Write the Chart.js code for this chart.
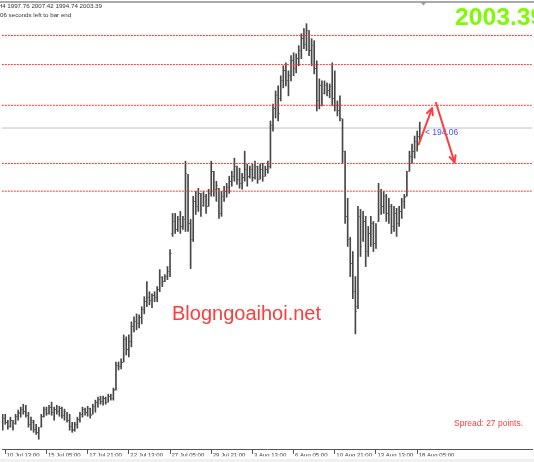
<!DOCTYPE html>
<html><head><meta charset="utf-8">
<script src="https://cdn.jsdelivr.net/npm/chart.js@4/dist/chart.umd.min.js"></script>
<style>html,body{margin:0;padding:0;background:#fff;overflow:hidden}canvas{display:block}</style>
</head><body>
<canvas id="c" width="534" height="462"></canvas>
<script>
// XAUUSD H4 bars, 10 Jul 09:00 .. 18 Aug 09:00
const opens=[1797.8,1804.0,1801.2,1798.4,1802.6,1800.5,1805.3,1807.4,1810.2,1808.8,
1806.0,1799.8,1801.2,1796.4,1794.3,1798.4,1805.3,1810.2,1807.4,1811.6,
1808.1,1810.2,1808.8,1810.9,1806.0,1807.4,1802.6,1798.4,1796.4,1799.8,
1803.3,1806.7,1810.2,1808.1,1810.9,1806.7,1812.2,1815.0,1817.1,1815.7,
1817.8,1815.0,1819.1,1817.8,1824.0,1840.5,1839.2,1842.6,1857.8,1850.9,
1856.4,1866.8,1870.2,1868.8,1873.0,1878.5,1884.0,1886.8,1884.7,1888.1,
1886.8,1892.3,1900.6,1897.8,1901.3,1904.7,1930.9,1939.2,1933.7,1940.6,
1935.8,1940.6,1970.3,1937.8,1926.8,1953.0,1949.6,1958.5,1950.2,1956.5,
1949.6,1958.5,1973.7,1961.3,1962.0,1944.7,1956.5,1959.9,1962.7,1966.8,
1970.3,1977.2,1968.2,1965.4,1969.6,1975.1,1970.3,1975.1,1969.6,1977.2,
1968.2,1975.1,1970.3,1975.1,1977.2,2004.8,2016.5,2025.5,2023.4,2035.8,
2042.7,2035.8,2039.3,2049.6,2044.1,2051.0,2056.5,2064.8,2060.6,2070.3,
2056.5,2060.0,2044.1,2022.0,2032.4,2026.8,2032.4,2028.9,2031.7,2023.4,
2018.6,2015.1,2009.6,1987.5,1942.7,1926.8,1910.2,1890.9,1880.6,1942.7,
1926.8,1939.2,1918.5,1930.9,1937.8,1924.0,1939.2,1959.9,1949.6,1956.5,
1944.7,1949.6,1935.8,1944.7,1937.8,1946.1,1953.0,1956.5,1973.7,1984.1,
1987.5,1994.4,1997.76];
const highs=[1806.7,1806.7,1802.6,1804.7,1802.6,1806.7,1809.5,1811.6,1813.6,1812.9,
1808.1,1804.7,1802.6,1799.8,1797.8,1806.7,1811.6,1811.6,1812.9,1815.0,
1811.6,1812.9,1812.2,1811.6,1810.2,1808.1,1806.7,1801.2,1801.2,1804.7,
1808.1,1811.6,1810.9,1812.2,1810.9,1813.6,1816.4,1818.5,1819.1,1819.1,
1818.5,1820.5,1820.5,1824.7,1842.6,1842.6,1844.7,1861.2,1859.9,1861.2,
1870.2,1873.7,1875.7,1875.0,1880.6,1887.5,1897.8,1890.9,1889.5,1890.9,
1894.4,1906.1,1901.3,1902.6,1908.2,1919.9,1944.7,1944.7,1942.7,1946.1,
1942.7,1980.6,1971.6,1940.6,1956.5,1959.9,1962.0,1958.5,1959.9,1957.8,
1961.3,1980.6,1973.7,1966.8,1962.0,1959.9,1963.4,1965.4,1970.3,1973.7,
1982.7,1977.2,1975.8,1972.3,1987.5,1978.5,1977.2,1978.5,1980.6,1977.2,
1978.5,1979.2,1977.2,1980.6,2008.2,2019.9,2028.9,2032.4,2039.3,2046.2,
2048.2,2042.7,2053.1,2055.1,2054.4,2060.0,2068.2,2071.7,2075.1,2070.3,
2064.8,2063.4,2049.6,2037.2,2035.8,2035.8,2034.4,2033.7,2048.2,2042.7,
2022.0,2025.5,2009.6,1987.5,1955.1,1928.2,1918.5,1901.3,1949.6,1947.5,
1946.1,1942.7,1935.8,1942.7,1939.2,1937.8,1965.4,1961.3,1959.9,1957.8,
1955.1,1950.9,1949.6,1948.2,1949.6,1955.1,1957.8,1973.7,1987.5,1992.3,
1997.9,2001.3,2007.42];
const lows=[1795.7,1799.8,1796.4,1797.8,1795.7,1799.8,1802.6,1804.7,1806.7,1804.7,
1797.8,1795.7,1794.3,1792.9,1789.5,1797.8,1804.7,1806.0,1806.7,1806.0,
1802.6,1806.7,1805.3,1804.0,1802.6,1801.2,1795.7,1794.3,1795.0,1797.1,
1801.2,1804.7,1806.0,1805.3,1804.0,1806.7,1808.1,1811.6,1813.6,1812.9,
1813.6,1815.0,1816.4,1816.4,1823.3,1837.1,1837.8,1842.6,1847.4,1846.1,
1853.0,1863.3,1864.7,1866.1,1868.8,1875.7,1880.6,1881.9,1879.9,1884.0,
1884.0,1890.9,1894.4,1897.8,1899.2,1901.3,1928.9,1930.9,1932.3,1930.9,
1933.7,1932.3,1932.3,1906.8,1925.4,1944.0,1946.1,1942.7,1949.6,1944.7,
1949.6,1956.5,1956.5,1953.0,1941.3,1942.7,1953.0,1955.8,1958.5,1963.4,
1966.8,1964.7,1962.0,1961.3,1966.8,1963.4,1968.9,1966.8,1968.2,1965.4,
1968.2,1966.8,1970.3,1972.3,1975.8,2001.3,2010.3,2008.2,2022.0,2031.0,
2032.4,2025.5,2035.8,2039.3,2041.3,2046.2,2051.0,2057.9,2056.5,2053.1,
2046.2,2040.6,2015.1,2016.5,2018.6,2026.8,2025.5,2024.1,2018.6,2015.1,
2011.7,2008.2,1979.2,1937.8,1922.0,1901.3,1886.1,1861.9,1879.2,1915.1,
1925.4,1908.2,1915.1,1922.0,1918.5,1920.6,1939.2,1944.0,1944.7,1939.2,
1937.8,1930.9,1932.3,1928.9,1935.8,1941.3,1948.2,1956.5,1973.7,1979.2,
1982.7,1987.5,1994.74];
const closes=[1804.0,1801.2,1798.4,1802.6,1797.8,1805.3,1808.1,1810.2,1808.8,1806.0,
1799.8,1802.6,1796.4,1794.3,1795.7,1805.3,1810.2,1807.4,1811.6,1808.1,
1810.2,1808.8,1810.9,1806.0,1808.8,1802.6,1798.4,1795.7,1799.8,1803.3,
1806.7,1810.2,1808.1,1810.9,1806.0,1812.2,1815.0,1817.1,1815.7,1817.8,
1815.0,1819.1,1817.8,1823.3,1840.5,1839.2,1842.6,1857.8,1850.9,1856.4,
1866.8,1870.2,1868.8,1873.0,1878.5,1884.0,1886.8,1884.7,1888.1,1886.8,
1892.3,1900.6,1897.8,1901.3,1904.7,1917.1,1939.2,1933.7,1940.6,1935.8,
1940.6,1972.3,1937.8,1926.8,1953.0,1949.6,1958.5,1947.5,1956.5,1949.6,
1958.5,1973.7,1961.3,1964.0,1944.7,1956.5,1959.9,1962.7,1966.8,1970.3,
1979.2,1968.2,1965.4,1969.6,1975.1,1970.3,1975.1,1969.6,1977.2,1968.2,
1975.1,1970.3,1975.1,1977.2,2004.8,2016.5,2025.5,2013.7,2035.8,2042.7,
2035.8,2039.3,2049.6,2044.1,2051.0,2056.5,2064.8,2060.6,2070.3,2056.5,
2060.0,2044.1,2022.0,2032.4,2023.4,2032.4,2028.9,2031.7,2023.4,2018.6,
2015.1,2009.6,1987.5,1942.7,1926.8,1910.2,1890.9,1877.1,1942.7,1922.0,
1939.2,1918.5,1930.9,1937.8,1924.0,1932.3,1959.9,1949.6,1956.5,1944.7,
1949.6,1935.8,1944.7,1937.8,1946.1,1953.0,1955.8,1970.3,1984.1,1987.5,
1994.4,1997.9,2003.39];
const tickIndex=[1,17,33,49,65,81,97,113,129,145,161];
const tickLabels=["10 Jul 13:00","15 Jul 05:00","17 Jul 21:00","22 Jul 13:00","27 Jul 05:00","29 Jul 21:00","3 Aug 13:00","6 Aug 05:00","10 Aug 21:00","13 Aug 13:00","18 Aug 05:00"];
const levels=[2067,2047,2019,1979,1960];
const bidPrice=2003.39;
const arrowStarts=[[161.6,1992.1],[168.3,2020.8]];
const arrowEnds=[[166.8,2017.0],[175.5,1979.9]];

const barColor='#474747';
function tickImage(px){const c=document.createElement('canvas');c.width=3;c.height=1;const g=c.getContext('2d');g.fillStyle='rgba(70,70,70,0.55)';g.fillRect(px,0,1,1);return c;}
const openImg=tickImage(0), closeImg=tickImage(2);
const idx=opens.map((_,i)=>i);

const datasets=[
 {type:'bar',data:idx.map(i=>({x:i,y:[lows[i],highs[i]]})),backgroundColor:barColor,barThickness:1,borderWidth:0,order:2},
 {type:'scatter',data:idx.map(i=>({x:i,y:opens[i]})),pointStyle:openImg,pointRadius:1,pointHoverRadius:1,order:1},
 {type:'scatter',data:idx.map(i=>({x:i,y:closes[i]})),pointStyle:closeImg,pointRadius:1,pointHoverRadius:1,order:1},
 {type:'line',data:[{x:-5,y:bidPrice},{x:220,y:bidPrice}],borderColor:'#c2c2c2',borderWidth:1,pointRadius:0,order:5},
 ...levels.map(v=>({type:'line',data:[{x:-5,y:v},{x:220,y:v}],borderColor:'#ff3535',borderWidth:1,borderDash:[2,1],pointRadius:0,order:0}))
];

function arrow(ctx,x1,y1,x2,y2){
 ctx.beginPath();ctx.moveTo(x1,y1);ctx.lineTo(x2,y2);ctx.stroke();
 const a=Math.atan2(y2-y1,x2-x1),L=7,w=0.45;
 ctx.beginPath();ctx.moveTo(x2-L*Math.cos(a-w),y2-L*Math.sin(a-w));ctx.lineTo(x2,y2);ctx.lineTo(x2-L*Math.cos(a+w),y2-L*Math.sin(a+w));ctx.stroke();
}

const overlay={id:'overlay',
 beforeDraw(chart){const c=chart.ctx;c.save();c.fillStyle='#fff';c.fillRect(0,0,chart.width,chart.height);
  c.fillStyle='#f0f0f0';c.fillRect(0,459,chart.width,3);c.restore();},
 afterDatasetsDraw(chart){
  const c=chart.ctx,xs=chart.scales.x,ys=chart.scales.y,a=chart.chartArea;
  c.save();
  c.strokeStyle='#555';c.lineWidth=1;c.beginPath();c.moveTo(0,a.top);c.lineTo(chart.width,a.top);c.stroke();
  c.fillStyle='#9a9a9a';c.beginPath();c.moveTo(420.5,a.top);c.lineTo(426.5,a.top);c.lineTo(423.5,a.top+3.5);c.closePath();c.fill();
  c.fillStyle='#4d4dff';c.font='8.5px "Liberation Sans"';c.fillText('< 194.06',425,135);
  c.strokeStyle='#ff3c3c';c.lineWidth=2;c.lineCap='round';c.lineJoin='round';
  for(let k=0;k<arrowStarts.length;k++){
   arrow(c,xs.getPixelForValue(arrowStarts[k][0]),ys.getPixelForValue(arrowStarts[k][1]),xs.getPixelForValue(arrowEnds[k][0]),ys.getPixelForValue(arrowEnds[k][1]));
  }
  c.fillStyle='#333';c.font='6.2px "Liberation Sans"';
  c.fillText('H4',-2.3,8.3);c.fillText('1997.76 2007.42 1994.74 2003.39',7.3,8.3);
  c.fillText('06 seconds left to bar end',0,16.8);
  c.fillStyle='#7cfc00';c.font='bold 24.7px "Liberation Sans"';c.fillText('2003.39',455,25);
  c.fillStyle='#ff3c3c';c.font='20px "Liberation Sans"';c.fillText('Blogngoaihoi.net',172,320);
  c.font='8.5px "Liberation Sans"';c.fillText('Spread: 27 points.',454,425.7);
  c.restore();
 }
};

new Chart(document.getElementById('c'),{
 type:'bar',
 data:{datasets},
 options:{responsive:false,animation:false,devicePixelRatio:1,
  layout:{padding:{top:1.5,bottom:5.7,left:0,right:0}},
  plugins:{legend:{display:false},tooltip:{enabled:false}},
  scales:{
   x:{type:'linear',min:-0.27,max:205.6,offset:false,position:'bottom',
    afterBuildTicks:(s)=>{s.ticks=tickIndex.map(v=>({value:v}));},
    ticks:{autoSkip:false,maxRotation:0,minRotation:0,align:'start',labelOffset:1.5,padding:-2.4,color:'#3a3a3a',
     font:{family:'Liberation Sans',size:6},callback:(v)=>tickLabels[tickIndex.indexOf(v)]},
    grid:{drawOnChartArea:false,drawTicks:true,tickLength:4,color:'#555',offset:false},
    border:{display:true,color:'#555',width:1}},
   y:{display:false,min:1782.2,max:2090.0}
  }
 },
 plugins:[overlay]
});
</script>
</body></html>
